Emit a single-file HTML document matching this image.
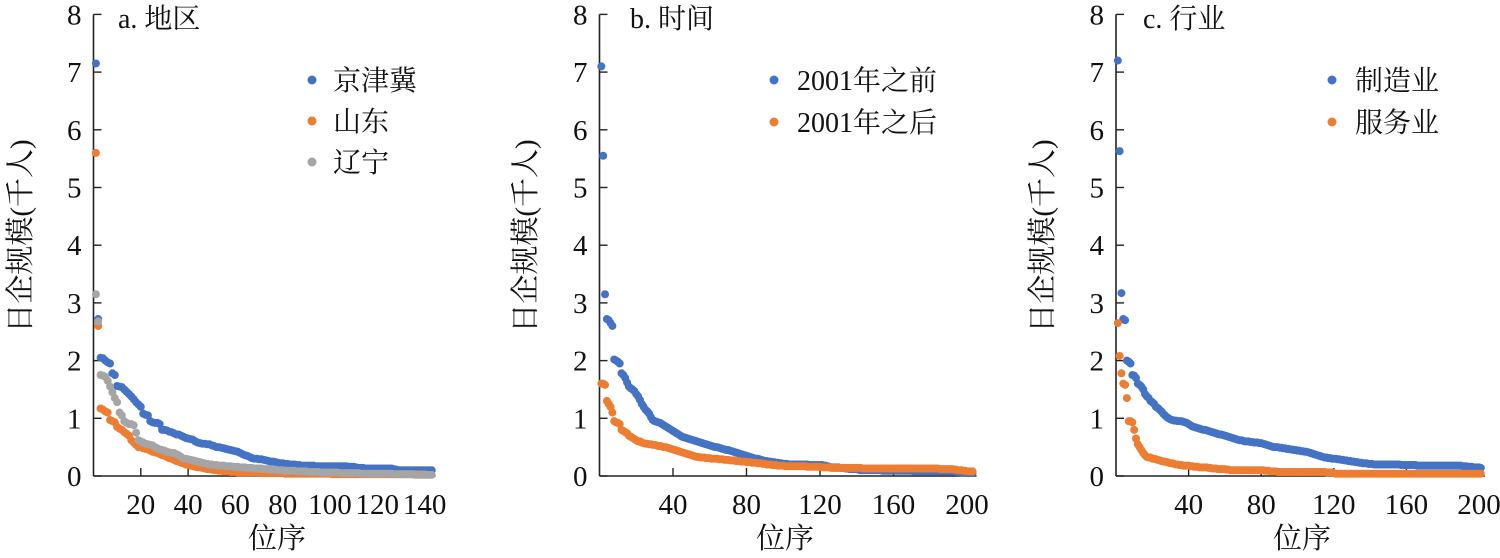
<!DOCTYPE html>
<html><head><meta charset="utf-8"><style>
html,body{margin:0;padding:0;background:#fff;}
svg{display:block;}
text{font-family:"Liberation Serif","Noto Serif CJK SC","Noto Sans CJK SC",serif;fill:#111;}
</style></head><body>
<svg id="chart" width="1500" height="558" viewBox="0 0 1500 558" xmlns="http://www.w3.org/2000/svg"></svg>
<script>
const yTicks=[0,1,2,3,4,5,6,7,8];
const aTicks=[20,40,60,80,100,120,140];
const bTicks=[40,80,120,160,200];
const cTicks=[40,80,120,160,200];
const aJJJ=[7.15,2.72,2.05,2.04,2.0,1.97,1.95,1.78,1.75,1.56,
1.55,1.54,1.5,1.46,1.42,1.38,1.33,1.28,1.24,1.2,
1.08,1.06,1.05,0.95,0.93,0.92,0.92,0.9,0.8,0.8,
0.79,0.77,0.76,0.74,0.72,0.72,0.7,0.68,0.66,0.65,
0.64,0.63,0.6,0.58,0.57,0.56,0.56,0.55,0.55,0.53,
0.52,0.5,0.5,0.49,0.48,0.47,0.46,0.45,0.44,0.43,
0.42,0.4,0.38,0.36,0.35,0.33,0.31,0.3,0.3,0.29,
0.29,0.28,0.27,0.26,0.25,0.25,0.24,0.23,0.22,0.22,
0.21,0.21,0.2,0.2,0.2,0.19,0.19,0.18,0.18,0.18,
0.18,0.18,0.18,0.17,0.17,0.17,0.17,0.17,0.17,0.17,
0.17,0.17,0.17,0.17,0.17,0.17,0.17,0.16,0.16,0.16,
0.15,0.14,0.14,0.14,0.13,0.13,0.13,0.13,0.13,0.13,
0.13,0.13,0.13,0.13,0.13,0.13,0.12,0.11,0.1,0.1,
0.1,0.1,0.1,0.1,0.1,0.1,0.1,0.1,0.1,0.1,0.1,0.1,0.1];
const aSD=[5.6,2.6,1.17,1.15,1.12,1.1,0.97,0.95,0.93,0.85,
0.82,0.8,0.76,0.73,0.7,0.62,0.58,0.54,0.5,0.5,
0.48,0.47,0.46,0.44,0.42,0.41,0.4,0.38,0.36,0.35,
0.33,0.31,0.3,0.28,0.26,0.25,0.23,0.22,0.2,0.19,
0.18,0.17,0.16,0.15,0.15,0.14,0.13,0.12,0.12,0.11,
0.1,0.1,0.09,0.09,0.08,0.08,0.08,0.07,0.07,0.07,
0.06,0.06,0.06,0.06,0.06,0.06,0.06,0.06,0.06,0.06,
0.05,0.05,0.05,0.05,0.05,0.05,0.05,0.05,0.05,0.05,
0.04,0.04,0.04,0.04,0.04,0.04,0.04,0.04,0.04,0.04,
0.04,0.04,0.04,0.04,0.04,0.04,0.04,0.04,0.04,0.04,
0.03,0.03,0.03,0.03,0.03,0.03,0.03,0.03,0.03,0.03,
0.03,0.03,0.03,0.03,0.03,0.03,0.03,0.03,0.03,0.03,
0.03,0.03,0.03,0.03,0.03,0.03,0.03,0.03,0.03,0.03,
0.03,0.03,0.03,0.03,0.03,0.03,0.03,0.03,0.03,0.03];
const aLN=[3.15,2.68,1.75,1.74,1.72,1.65,1.55,1.45,1.35,1.28,
1.1,1.05,0.95,0.92,0.9,0.9,0.88,0.75,0.62,0.6,
0.58,0.56,0.55,0.54,0.53,0.5,0.48,0.46,0.45,0.44,
0.42,0.41,0.4,0.4,0.38,0.36,0.33,0.3,0.3,0.29,
0.28,0.27,0.26,0.25,0.24,0.23,0.22,0.21,0.2,0.2,
0.19,0.19,0.18,0.18,0.18,0.17,0.17,0.17,0.16,0.16,
0.16,0.15,0.15,0.15,0.14,0.14,0.14,0.13,0.13,0.13,
0.13,0.12,0.12,0.12,0.11,0.11,0.11,0.1,0.1,0.1,
0.09,0.09,0.09,0.09,0.09,0.08,0.08,0.08,0.08,0.08,
0.07,0.07,0.07,0.07,0.07,0.06,0.06,0.06,0.06,0.06,
0.06,0.06,0.06,0.05,0.05,0.05,0.05,0.05,0.05,0.05,
0.05,0.05,0.04,0.04,0.04,0.04,0.04,0.04,0.04,0.04,
0.04,0.04,0.04,0.04,0.04,0.04,0.03,0.03,0.03,0.03,
0.03,0.03,0.03,0.03,0.03,0.02,0.02,0.02,0.02,0.02,0.02,0.02,0.02];
const bBefore=[7.1,5.55,3.15,2.72,2.7,2.65,2.6,2.02,2.0,1.98,
1.95,1.78,1.75,1.7,1.62,1.55,1.52,1.5,1.47,1.42,
1.38,1.32,1.25,1.2,1.15,1.12,1.08,1.02,0.97,0.95,
0.94,0.93,0.92,0.9,0.88,0.86,0.84,0.82,0.8,0.78,
0.76,0.74,0.72,0.7,0.68,0.67,0.66,0.65,0.64,0.63,
0.62,0.61,0.6,0.59,0.58,0.57,0.56,0.55,0.54,0.53,
0.52,0.51,0.5,0.5,0.49,0.48,0.47,0.46,0.45,0.45,
0.44,0.43,0.42,0.41,0.4,0.39,0.38,0.37,0.36,0.35,
0.34,0.33,0.32,0.31,0.3,0.3,0.29,0.28,0.27,0.26,
0.26,0.25,0.25,0.24,0.24,0.23,0.23,0.22,0.22,0.21,
0.21,0.21,0.2,0.2,0.2,0.2,0.2,0.2,0.2,0.2,
0.2,0.2,0.2,0.19,0.19,0.19,0.19,0.19,0.19,0.19,
0.19,0.18,0.18,0.17,0.16,0.15,0.15,0.15,0.15,0.15,
0.14,0.14,0.14,0.13,0.13,0.12,0.12,0.12,0.12,0.12,
0.11,0.1,0.1,0.1,0.1,0.1,0.1,0.1,0.1,0.1,
0.1,0.1,0.1,0.09,0.09,0.09,0.09,0.09,0.09,0.09,
0.09,0.09,0.09,0.09,0.09,0.09,0.09,0.09,0.09,0.09,
0.08,0.08,0.08,0.08,0.08,0.08,0.08,0.08,0.08,0.08,
0.08,0.08,0.08,0.08,0.08,0.08,0.08,0.08,0.08,0.08,
0.08,0.08,0.08,0.07,0.07,0.07,0.06,0.06,0.06,0.05,0.05,0.05,0.05];
const bAfter=[1.6,1.6,1.58,1.3,1.25,1.2,1.1,0.95,0.93,0.92,
0.9,0.8,0.78,0.76,0.74,0.7,0.68,0.66,0.64,0.62,
0.6,0.6,0.58,0.57,0.56,0.56,0.55,0.55,0.54,0.54,
0.53,0.52,0.52,0.51,0.5,0.5,0.49,0.48,0.47,0.46,
0.45,0.44,0.43,0.42,0.41,0.4,0.39,0.38,0.37,0.36,
0.35,0.34,0.33,0.33,0.32,0.32,0.32,0.31,0.31,0.31,
0.3,0.3,0.3,0.3,0.29,0.29,0.29,0.28,0.28,0.28,
0.27,0.27,0.27,0.26,0.26,0.26,0.25,0.25,0.25,0.24,
0.24,0.24,0.23,0.23,0.23,0.22,0.22,0.22,0.21,0.21,
0.2,0.2,0.2,0.19,0.19,0.19,0.18,0.18,0.18,0.18,
0.17,0.17,0.17,0.17,0.17,0.17,0.17,0.17,0.17,0.17,
0.17,0.17,0.16,0.16,0.16,0.16,0.16,0.16,0.16,0.16,
0.15,0.15,0.15,0.15,0.15,0.14,0.14,0.14,0.14,0.14,
0.14,0.14,0.14,0.14,0.14,0.14,0.14,0.14,0.14,0.14,
0.14,0.14,0.13,0.13,0.13,0.13,0.13,0.13,0.13,0.13,
0.13,0.13,0.13,0.13,0.13,0.13,0.13,0.13,0.13,0.13,
0.13,0.13,0.13,0.13,0.13,0.13,0.13,0.13,0.13,0.13,
0.13,0.13,0.13,0.13,0.13,0.13,0.13,0.13,0.13,0.13,
0.13,0.13,0.13,0.13,0.12,0.12,0.12,0.12,0.12,0.12,
0.12,0.12,0.11,0.11,0.1,0.1,0.1,0.09,0.09,0.08,0.08,0.08,0.08];
const cMfg=[7.2,5.63,3.17,2.72,2.7,2.0,1.98,1.95,1.75,1.74,
1.7,1.6,1.58,1.55,1.5,1.42,1.38,1.35,1.3,1.28,
1.25,1.2,1.18,1.15,1.12,1.08,1.05,1.02,1.0,0.98,
0.97,0.96,0.96,0.95,0.95,0.95,0.94,0.93,0.92,0.9,
0.88,0.86,0.85,0.84,0.83,0.82,0.81,0.8,0.8,0.79,
0.78,0.77,0.76,0.75,0.74,0.73,0.72,0.72,0.71,0.7,
0.69,0.68,0.67,0.66,0.65,0.64,0.63,0.62,0.62,0.61,
0.6,0.6,0.6,0.59,0.59,0.58,0.58,0.58,0.57,0.57,
0.56,0.55,0.54,0.53,0.52,0.51,0.5,0.5,0.5,0.49,
0.49,0.48,0.48,0.47,0.47,0.46,0.46,0.45,0.45,0.44,
0.44,0.43,0.43,0.42,0.42,0.41,0.4,0.39,0.38,0.37,
0.36,0.35,0.34,0.33,0.32,0.32,0.31,0.31,0.3,0.3,
0.3,0.29,0.29,0.28,0.28,0.27,0.27,0.26,0.26,0.25,
0.25,0.24,0.24,0.23,0.23,0.22,0.22,0.22,0.21,0.21,
0.21,0.2,0.2,0.2,0.2,0.2,0.2,0.2,0.2,0.2,
0.2,0.2,0.2,0.2,0.2,0.2,0.19,0.19,0.19,0.19,
0.19,0.19,0.19,0.19,0.19,0.18,0.18,0.18,0.18,0.18,
0.18,0.18,0.18,0.18,0.18,0.18,0.18,0.18,0.18,0.18,
0.18,0.18,0.18,0.18,0.18,0.18,0.18,0.18,0.18,0.18,
0.17,0.17,0.17,0.16,0.16,0.16,0.15,0.15,0.15,0.15,0.14];
const cSvc=[2.65,2.08,1.78,1.6,1.58,1.35,0.95,0.95,0.93,0.8,
0.65,0.55,0.5,0.45,0.4,0.36,0.33,0.32,0.32,0.3,
0.3,0.29,0.28,0.27,0.26,0.25,0.25,0.24,0.23,0.22,
0.22,0.21,0.2,0.2,0.19,0.19,0.18,0.18,0.18,0.18,
0.17,0.17,0.16,0.16,0.16,0.15,0.15,0.15,0.15,0.15,
0.14,0.14,0.13,0.13,0.13,0.12,0.12,0.12,0.12,0.12,
0.11,0.11,0.1,0.1,0.1,0.1,0.1,0.1,0.1,0.1,
0.1,0.1,0.1,0.1,0.1,0.1,0.1,0.1,0.1,0.1,
0.1,0.09,0.09,0.09,0.08,0.08,0.08,0.08,0.07,0.07,
0.07,0.07,0.07,0.07,0.07,0.07,0.07,0.07,0.07,0.07,
0.07,0.07,0.07,0.07,0.07,0.07,0.07,0.07,0.07,0.07,
0.07,0.07,0.07,0.07,0.07,0.06,0.06,0.06,0.06,0.05,
0.04,0.04,0.04,0.04,0.04,0.04,0.04,0.04,0.04,0.04,
0.04,0.04,0.04,0.04,0.04,0.04,0.04,0.04,0.04,0.04,
0.04,0.04,0.04,0.04,0.04,0.04,0.04,0.04,0.04,0.04,
0.04,0.04,0.04,0.04,0.04,0.04,0.04,0.04,0.04,0.04,
0.04,0.04,0.04,0.04,0.04,0.04,0.04,0.04,0.04,0.04,
0.04,0.04,0.04,0.04,0.04,0.04,0.04,0.04,0.04,0.04,
0.04,0.04,0.04,0.04,0.04,0.04,0.04,0.04,0.04,0.04,
0.04,0.04,0.04,0.04,0.04,0.04,0.04,0.04,0.04,0.04,0.04];

const NS="http://www.w3.org/2000/svg";
const svg=document.getElementById('chart');
const BLUE="#4472c4",ORANGE="#ed7d31",GRAY="#a5a5a5";
const Y0=476, YU=57.7;
function yS(v){return Y0-v*YU;}
function mk(tag,attrs,parent){const e=document.createElementNS(NS,tag);for(const k in attrs)e.setAttribute(k,attrs[k]);(parent||svg).appendChild(e);return e;}

function panel(id,ax,xPer,xTicks,title,tx,series,legX,legTextX,legY0,legStep,ytitleX,xtitleX){
  const g=mk('g',{});
  
  
  const xS=v=>ax+v*xPer;
  const xMaxPx=Math.max(...series.map(s=>xS(s.data.length)))+4;
  // axes
  const yl=mk('line',{x1:ax,y1:Y0,x2:ax,y2:yS(8),stroke:'#222','stroke-width':1.6},g);
  
  
  const xl=mk('line',{x1:ax,y1:Y0,x2:xMaxPx,y2:Y0,stroke:'#222','stroke-width':1.6},g);
  
  
  yTicks.forEach(t=>{
    const y=yS(t);
    const tk=mk('line',{x1:ax,y1:y,x2:ax+8,y2:y,stroke:'#222','stroke-width':1.4},g);
    
    
    const tl=mk('text',{x:ax-12,y:y+10,'text-anchor':'end','font-size':29},g);
    tl.textContent=t;
    
    
  });
  xTicks.forEach(t=>{
    const x=xS(t);
    const tk=mk('line',{x1:x,y1:Y0,x2:x,y2:Y0-8,stroke:'#222','stroke-width':1.4},g);
    
    
    const tl=mk('text',{x:x,y:Y0+38,'text-anchor':'middle','font-size':29},g);
    tl.textContent=t;
    
    
  });
  const ti=mk('text',{x:tx,y:28,'font-size':28},g);
  ti.textContent=title;
  
  
  const yt=mk('text',{x:0,y:0,'text-anchor':'middle','font-size':29,transform:'translate('+(ytitleX+10)+',236) rotate(-90)'},g);
  yt.textContent='日企规模(千人)';
  
  
  const xt=mk('text',{x:xtitleX,y:548,'text-anchor':'middle','font-size':29},g);
  xt.textContent='位序';
  
  
  series.forEach((s,si)=>{
    const sg=mk('g',{fill:s.color},g);
    
    
    s.data.forEach((v,i)=>{
      const c=mk('circle',{cx:xS(i+1),cy:yS(v),r:4},sg);
      
      
    });
    const ly=legY0+si*legStep;
    const lm=mk('circle',{cx:legX,cy:ly,r:4.5,fill:s.color},g);
    
    
    const lt=mk('text',{x:legTextX,y:ly+10,'font-size':28},g);
    lt.textContent=s.label;
    
    
  });
}
// draw gray before others in panel a so blue/orange on top? keep order: gray last appears on top in reference
panel('a',93.5,47.3/20,aTicks,'a. 地区',118,
 [{key:'jingjinji',label:'京津冀',color:BLUE,data:aJJJ},
  {key:'shandong',label:'山东',color:ORANGE,data:aSD},
  {key:'liaoning',label:'辽宁',color:GRAY,data:aLN}],
 312,333,80,41,20,277);
panel('b',599.5,73.5/40,bTicks,'b. 时间',630,
 [{key:'before-2001',label:'2001年之前',color:BLUE,data:bBefore},
  {key:'after-2001',label:'2001年之后',color:ORANGE,data:bAfter}],
 774,797,80,42,525,785);
panel('c',1116,72.6/40,cTicks,'c. 行业',1143,
 [{key:'manufacturing',label:'制造业',color:BLUE,data:cMfg},
  {key:'service',label:'服务业',color:ORANGE,data:cSvc}],
 1332,1355,80,42,1042,1302);
</script>
</body></html>
